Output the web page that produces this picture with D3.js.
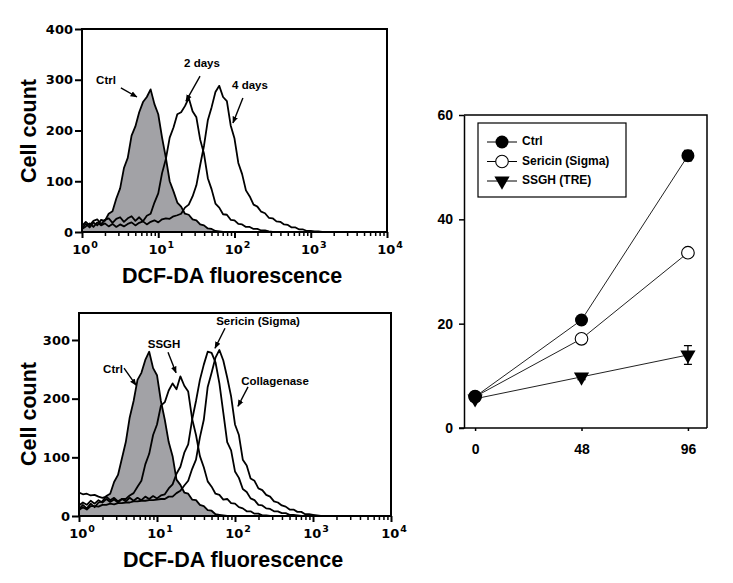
<!DOCTYPE html>
<html><head><meta charset="utf-8">
<script src="https://cdn.jsdelivr.net/npm/d3@7"></script>
<style>body{margin:0;background:#fff}svg{display:block}</style>
</head><body><svg id="c" width="733" height="583"></svg>
<script>
// ---------- DATA ----------
// histogram bins: bin i is at log10(fluorescence) = i * logStep
const logStep = 0.05;
const topCtrl = [8,16,9,19,13,24,22,36,41,66,86,126,146,190,208,236,256,266,281,252,232,186,146,100,80,58,50,36,34,25,23,15,13,7,6,2,1,0];
const top2days = [12,20,13,22,25,15,24,27,18,26,29,20,27,31,22,29,21,32,36,58,76,116,144,186,206,232,236,248,264,238,226,182,154,106,84,56,48,35,34,24,23,16,15,10,10,6,6,3,3,1,0];
const top4days = [6,11,17,10,19,13,17,11,16,10,15,11,16,19,13,18,21,15,20,23,19,25,27,26,31,33,36,48,54,70,92,132,170,220,246,276,288,266,258,210,184,136,114,82,70,54,50,40,37,28,27,21,20,15,14,9,9,5,5,2,2,1,1,0];
const botCtrl = [12,19,13,21,15,23,25,34,38,58,70,98,126,168,196,232,244,266,280,252,240,196,164,126,102,62,53,40,38,28,27,19,17,10,9,3,2,1,0];
const botSSGH = [40,37,38,35,36,33,31,33,27,31,25,29,29,35,39,50,60,88,106,138,156,188,194,214,226,216,238,222,212,166,138,102,83,59,50,38,36,28,29,22,21,15,13,8,8,4,4,1,1,0];
const botSericin = [18,23,19,26,21,27,23,29,24,28,23,29,25,31,26,31,27,33,29,34,30,35,37,47,54,72,84,108,122,164,196,232,258,280,278,262,226,176,126,112,76,65,46,41,30,27,19,18,13,12,8,8,5,5,2,2,1,0];
const botCollagenase = [10,15,11,17,17,16,19,19,21,20,22,22,23,23,25,25,26,26,27,27,28,29,29,33,33,39,43,52,60,80,96,134,164,220,244,270,283,265,236,204,156,138,96,86,64,60,47,44,36,33,25,23,18,16,11,11,7,7,3,3,2,1,0];

const histYTicksTop = [0,100,200,300,400];
const histYTicksBot = [0,100,200,300];
const decadeExps = [0,1,2,3,4];

// annotations: x as log10 value, y as cell count
const topNotes = [
  {label:"Ctrl",   tx:0.315, ty:297, x1:0.51, y1:284, x2:0.72, y2:266},
  {label:"2 days", tx:1.574, ty:331, x1:1.548, y1:307, x2:1.364, y2:258},
  {label:"4 days", tx:2.203, ty:288, x1:2.11, y1:264, x2:1.98, y2:215}
];
const botNotes = [
  {label:"Ctrl",            tx:0.436, ty:249, x1:0.577, y1:252, x2:0.731, y2:223},
  {label:"SSGH",            tx:1.09,  ty:291, x1:1.141, y1:279, x2:1.244, y2:244},
  {label:"Sericin (Sigma)", tx:2.295, ty:330, x1:1.872, y1:320, x2:1.744, y2:286},
  {label:"Collagenase",     tx:2.513, ty:228, x1:2.167, y1:220, x2:2.038, y2:187}
];

// time course (right panel)
const timePoints = [0, 48, 96];
const timeTicks = [0, 48, 96];
const lineYTicks = [0, 20, 40, 60];
const seriesNames = ["Ctrl", "Sericin (Sigma)", "SSGH (TRE)"];
const ctrlValues = [6.0, 20.7, 52.2];
const sericinValues = [6.0, 17.1, 33.6];
const ssghValues = [5.6, 9.8, 14.0];
const ctrlErr = [0.4, 0.6, 1.0];
const sericinErr = [0.3, 0.5, 0.6];
const ssghErr = [0.4, 0.5, 1.8];

// ---------- DRAW ----------
const FONT = "'Liberation Sans', Arial, sans-serif";
const TICKFONT = "'DejaVu Sans', sans-serif";
const svg = d3.select("#c");
const defs = svg.append("defs");
defs.append("marker").attr("id","arr").attr("viewBox","0 0 10 10").attr("refX",9).attr("refY",5)
  .attr("markerWidth",7).attr("markerHeight",7).attr("orient","auto").attr("markerUnits","userSpaceOnUse")
  .append("path").attr("d","M0,1 L10,5 L0,9 z").attr("fill","#000");

function histPanel(o){
  const x = d3.scaleLog().domain([1,1e4]).range([o.left,o.right]);
  const y = d3.scaleLinear().domain([0,o.ymax]).range([o.bottom,o.top]);
  const g = svg.append("g");
  defs.append("clipPath").attr("id","clip"+o.id).append("rect")
    .attr("x",o.left).attr("y",o.top).attr("width",o.right-o.left).attr("height",o.bottom-o.top);
  const pts = arr => arr.map((v,i)=>[Math.pow(10,i*logStep), v]);
  const line = d3.line().x(d=>x(d[0])).y(d=>y(d[1]));
  const area = d3.area().x(d=>x(d[0])).y0(y(0)).y1(d=>y(d[1]));
  const cg = g.append("g").attr("clip-path",`url(#clip${o.id})`);
  cg.append("path").datum(pts(o.filled)).attr("d",area).attr("fill","#a2a2a6");
  cg.append("path").datum(pts(o.filled)).attr("d",line).attr("fill","none").attr("stroke","#000").attr("stroke-width",1.8).attr("stroke-linejoin","round");
  o.lines.forEach(a=>{
    cg.append("path").datum(pts(a)).attr("d",line).attr("fill","none").attr("stroke","#000").attr("stroke-width",1.8).attr("stroke-linejoin","round");
  });
  // frame
  g.append("rect").attr("x",o.left).attr("y",o.top).attr("width",o.right-o.left).attr("height",o.bottom-o.top)
    .attr("fill","none").attr("stroke","#000").attr("stroke-width",2);
  // y axis
  const ya = g.append("g").attr("transform",`translate(${o.left},0)`)
    .call(d3.axisLeft(y).tickValues(o.yticks).tickSize(7).tickSizeOuter(0).tickPadding(2));
  ya.select(".domain").remove();
  ya.selectAll("line").attr("stroke-width",2);
  ya.selectAll("text").attr("font-family",TICKFONT).attr("font-size",13).attr("font-weight","bold").attr("fill","#000");
  // x axis: minor then major
  const minor = [];
  decadeExps.slice(0,-1).forEach(e=>{ for(let m=2;m<=9;m++) minor.push(m*Math.pow(10,e)); });
  const xm = g.append("g").attr("transform",`translate(0,${o.bottom})`)
    .call(d3.axisBottom(x).tickValues(minor).tickSize(4).tickSizeOuter(0).tickFormat(()=>""));
  xm.select(".domain").remove();
  xm.selectAll("line").attr("stroke-width",1.5);
  const xa = g.append("g").attr("transform",`translate(0,${o.bottom})`)
    .call(d3.axisBottom(x).tickValues(decadeExps.map(e=>Math.pow(10,e))).tickSize(6).tickSizeOuter(0).tickFormat(()=>""));
  xa.select(".domain").remove();
  xa.selectAll("line").attr("stroke-width",2);
  xa.selectAll(".tick text").each(function(d){
    const t = d3.select(this);
    t.attr("font-family",TICKFONT).attr("font-size",13).attr("font-weight","bold").attr("fill","#000")
     .attr("y",22).attr("dy",null).attr("dx","0.2em");
    t.append("tspan").text("10");
    t.append("tspan").attr("dy",-6).attr("dx",1).attr("font-size",9.5).text(Math.round(Math.log10(d)));
  });
  // axis titles
  g.append("text").attr("x",o.titleX).attr("y",o.bottom+51).attr("text-anchor","middle")
    .attr("font-family",FONT).attr("font-size",21.5).attr("font-weight","bold").text("DCF-DA fluorescence");
  g.append("text").attr("transform",`translate(36,${o.titleY}) rotate(-90)`).attr("text-anchor","middle")
    .attr("font-family",FONT).attr("font-size",21.5).attr("font-weight","bold").text("Cell count");
  // annotations
  o.notes.forEach(n=>{
    const lx = v=>x(Math.pow(10,v));
    g.append("text").attr("x",lx(n.tx)).attr("y",y(n.ty)).attr("text-anchor","middle").attr("dominant-baseline","middle")
      .attr("font-family",FONT).attr("font-size",11.5).attr("font-weight","bold").text(n.label);
    g.append("line").attr("x1",lx(n.x1)).attr("y1",y(n.y1)).attr("x2",lx(n.x2)).attr("y2",y(n.y2))
      .attr("stroke","#000").attr("stroke-width",1.4).attr("marker-end","url(#arr)");
  });
}

histPanel({id:1,left:82,right:387,top:29,bottom:232,ymax:400,yticks:histYTicksTop,
  filled:topCtrl,lines:[top2days,top4days],notes:topNotes,titleX:232,titleY:131});
histPanel({id:2,left:79,right:391,top:313,bottom:516,ymax:346,yticks:histYTicksBot,
  filled:botCtrl,lines:[botSSGH,botSericin,botCollagenase],notes:botNotes,titleX:233,titleY:414});

// ---------- right panel ----------
(function(){
  const L=464,R=707,T=115,B=428;
  const x = d3.scaleLinear().domain([-5,104.6]).range([L,R]);
  const y = d3.scaleLinear().domain([0,60]).range([B,T]);
  const g = svg.append("g");
  g.append("path").attr("d",`M${L},${T}H${R}V${B}`).attr("fill","none").attr("stroke","#000").attr("stroke-width",1.5);
  const ya = g.append("g").attr("transform",`translate(${L},0)`)
    .call(d3.axisLeft(y).tickValues(lineYTicks).tickSize(5).tickSizeOuter(0).tickPadding(6));
  ya.select(".domain").attr("stroke-width",1.5);
  ya.selectAll("line").attr("stroke-width",1.5);
  ya.selectAll("text").attr("font-family",FONT).attr("font-size",14).attr("font-weight","bold").attr("fill","#000");
  const xa = g.append("g").attr("transform",`translate(0,${B})`)
    .call(d3.axisBottom(x).tickValues(timeTicks).tickSize(3).tickSizeOuter(0).tickPadding(13));
  xa.select(".domain").attr("stroke-width",1.5).attr("d",`M${L-5},0H${R}`);
  xa.selectAll("line").attr("stroke-width",1.5);
  xa.selectAll("text").attr("font-family",FONT).attr("font-size",14).attr("font-weight","bold").attr("fill","#000");

  const series = [
    {vals:ctrlValues, err:ctrlErr, sym:"fill"},
    {vals:sericinValues, err:sericinErr, sym:"open"},
    {vals:ssghValues, err:ssghErr, sym:"tri"}
  ];
  const line = d3.line().x((d,i)=>x(timePoints[i])).y(d=>y(d));
  series.forEach(s=>{
    g.append("path").datum(s.vals).attr("d",line).attr("fill","none").attr("stroke","#222").attr("stroke-width",1);
  });
  const tri = d3.symbol().type(d3.symbolTriangle).size(100);
  function drawSym(gg, sym, cx, cy){
    if(sym==="fill") gg.append("circle").attr("cx",cx).attr("cy",cy).attr("r",6.5).attr("fill","#000");
    else if(sym==="open") gg.append("circle").attr("cx",cx).attr("cy",cy).attr("r",6.3).attr("fill","#fff").attr("stroke","#000").attr("stroke-width",1.1);
    else gg.append("path").attr("d",tri()).attr("transform",`translate(${cx},${cy}) rotate(180)`).attr("fill","#000");
  }
  [series[1],series[2],series[0]].forEach(s=>{
    s.vals.forEach((v,i)=>{
      const cx=x(timePoints[i]);
      g.append("path").attr("d",`M${cx},${y(v-s.err[i])}V${y(v+s.err[i])}M${cx-4},${y(v+s.err[i])}H${cx+4}M${cx-4},${y(v-s.err[i])}H${cx+4}`)
        .attr("stroke","#000").attr("stroke-width",1.3);
      drawSym(g, s.sym, cx, y(v));
    });
  });
  // legend
  const lg = g.append("g");
  lg.append("rect").attr("x",478).attr("y",123).attr("width",148).attr("height",74).attr("fill","#fff").attr("stroke","#000").attr("stroke-width",1.2);
  series.forEach((s,i)=>{
    const cy = 142 + i*19.5;
    lg.append("line").attr("x1",487).attr("x2",517).attr("y1",cy).attr("y2",cy).attr("stroke","#000").attr("stroke-width",1);
    drawSym(lg, s.sym, 502, cy);
    lg.append("text").attr("x",522).attr("y",cy).attr("dominant-baseline","middle")
      .attr("font-family",FONT).attr("font-size",12).attr("font-weight","bold").text(seriesNames[i]);
  });
})();
</script></body></html>
